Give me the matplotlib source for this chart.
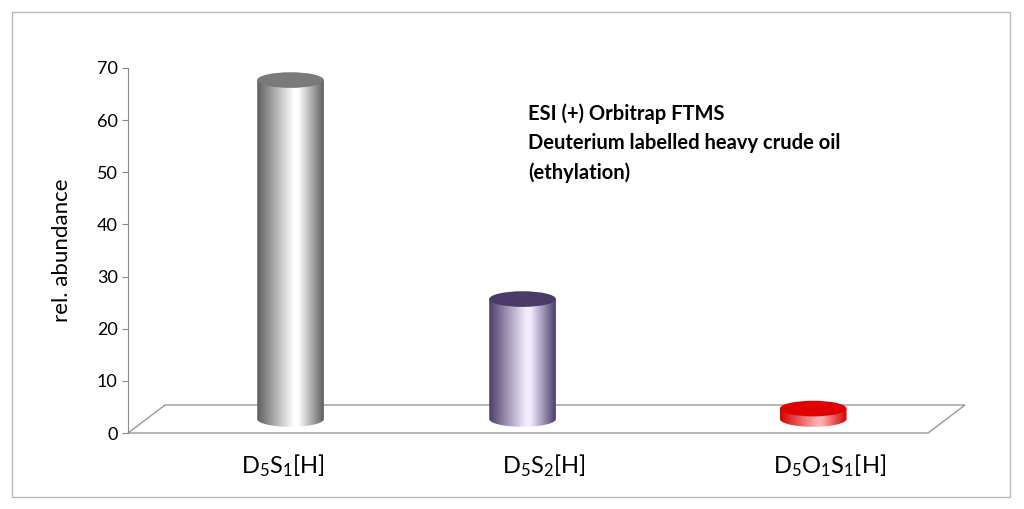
import matplotlib
matplotlib.use("Agg")
import matplotlib.pyplot as plt
import numpy as np
from matplotlib.colors import LinearSegmentedColormap
from matplotlib.patches import Ellipse, Polygon, Rectangle

categories = ["D$_5$S$_1$[H]", "D$_5$S$_2$[H]", "D$_5$O$_1$S$_1$[H]"]
values = [65, 23, 2]
body_colors = [("#5e5e5e", "#ffffff"), ("#4c3d6b", "#f2ecff"), ("#d40000", "#ffb0b0")]
top_colors = ["#7a7a7a", "#4a3a68", "#e00000"]

plt.rcParams["font.family"] = ["Lato", "DejaVu Sans"]
plt.rcParams["mathtext.default"] = "regular"

fig = plt.figure(figsize=(10.24, 5.09), dpi=100)
fig.patches.append(Rectangle((12 / 1024, 12 / 509), 998 / 1024, 485 / 509, transform=fig.transFigure,
                             fill=False, edgecolor="#b8b8b8", lw=1))
ax = fig.add_axes([128 / 1024, 76 / 509, 800 / 1024, 365 / 509])
ax.set_xlim(0, 3)
ax.set_ylim(0, 70)
for s in ["top", "right", "bottom"]:
    ax.spines[s].set_visible(False)
ax.spines["left"].set_color("#888888")
ax.set_yticks(range(0, 71, 10))
ax.tick_params(axis="y", labelsize=13, length=4, color="#888888")
ax.set_ylabel("rel. abundance", fontsize=16, labelpad=18)
ax.set_xticks([0.58, 1.56, 2.63])
ax.set_xticklabels(categories, fontsize=17)
ax.tick_params(axis="x", length=0, pad=14)

# floor
dx, dy = 0.139, 5.37
ax.add_patch(Polygon([(0, 0), (dx, dy), (3 + dx, dy), (3, 0)], closed=True, facecolor="white",
                     edgecolor="#999999", lw=1, clip_on=False, zorder=1))

w, eh = 0.25, 3.0
base = dy / 2
shifts = [0.04, -0.09, 0.0]
for i, v in enumerate(values):
    xc = i + 0.5 + dx / 2 + shifts[i]
    top = base + v
    t = np.linspace(np.pi, 2 * np.pi, 40)
    arc = [(xc + w / 2 * np.cos(a), base + eh / 2 * np.sin(a)) for a in t]
    pts = [(xc - w / 2, top)] + arc + [(xc + w / 2, top)]
    clip = Polygon(pts, closed=True, facecolor="none", edgecolor="none", transform=ax.transData)
    ax.add_patch(clip)
    dark, light = body_colors[i]
    cmap = LinearSegmentedColormap.from_list("c", [(0, dark), (0.55, light), (0.62, light), (1, dark)])
    grad = np.linspace(0, 1, 256).reshape(1, -1)
    im = ax.imshow(grad, cmap=cmap, aspect="auto", extent=(xc - w / 2, xc + w / 2, base - eh, top),
                   zorder=3, interpolation="bicubic")
    im.set_clip_path(clip)
    ax.add_patch(Ellipse((xc, top), w, eh, facecolor=top_colors[i], edgecolor="none", zorder=4))

ax.text(1.50, 63.2, "ESI (+) Orbitrap FTMS\nDeuterium labelled heavy crude oil\n(ethylation)",
        fontsize=14.5, fontweight="bold", va="top", ha="left", linespacing=1.55, transform=ax.transData)

fig.savefig("out.png", dpi=100)
